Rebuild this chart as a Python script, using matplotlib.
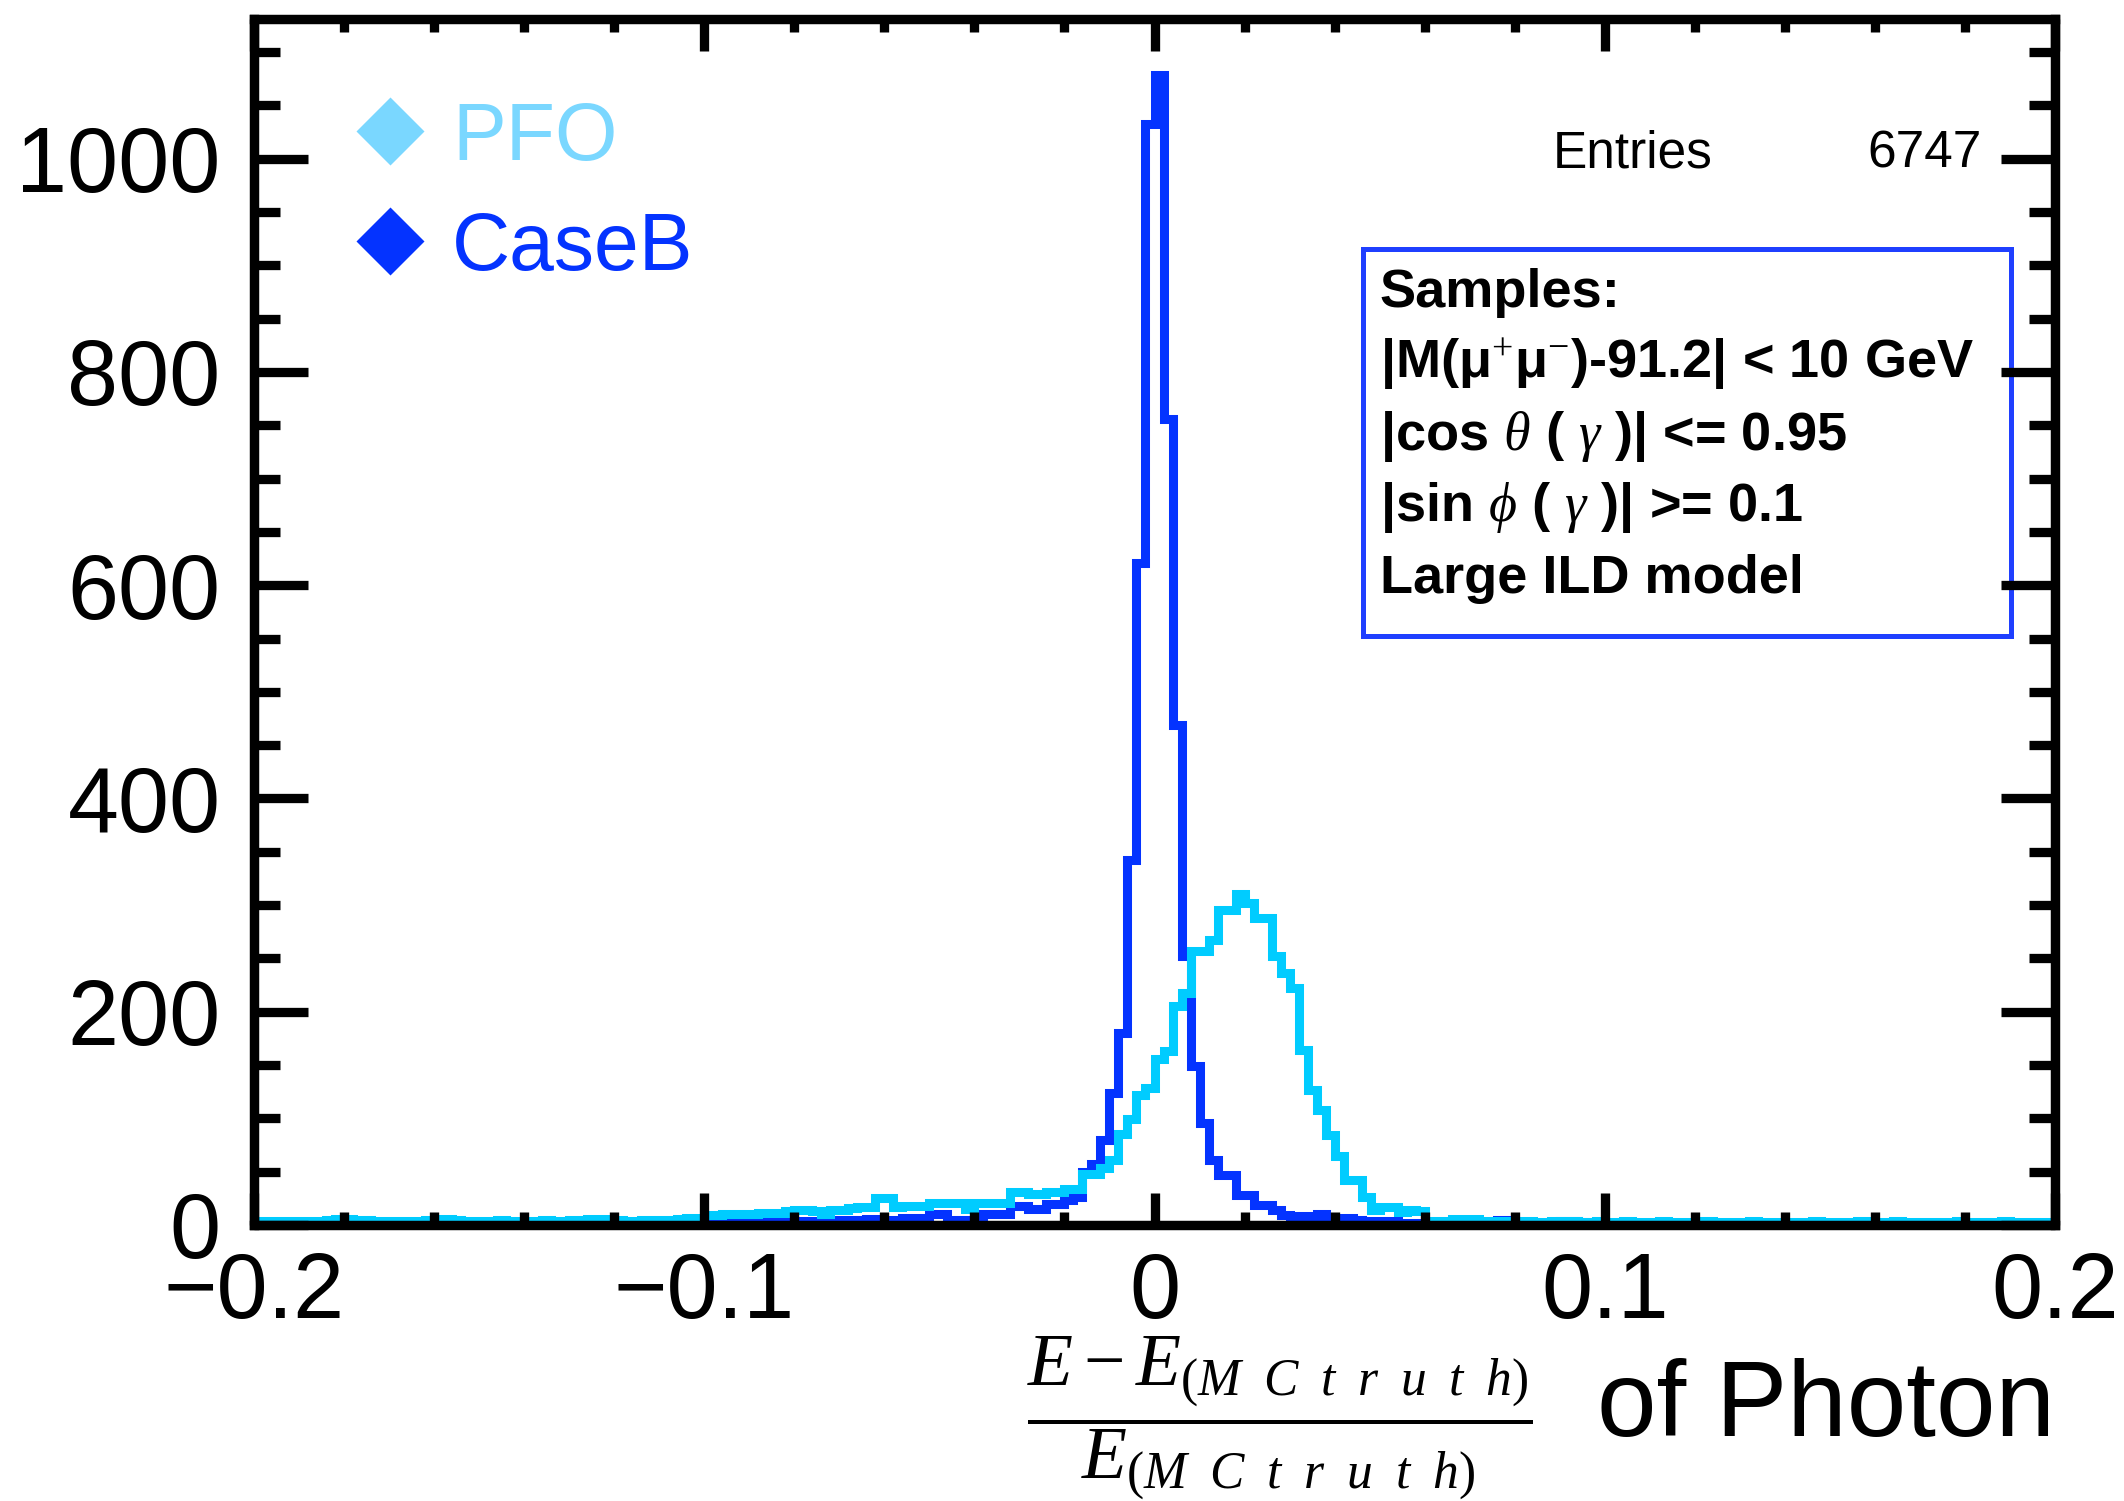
import numpy as np
import matplotlib
matplotlib.use('Agg')
import matplotlib.pyplot as plt
from matplotlib.patches import Rectangle
from matplotlib.ticker import MultipleLocator, FixedLocator

plt.rcParams['font.family'] = ['Liberation Sans', 'DejaVu Sans']
plt.rcParams['mathtext.fontset'] = 'custom'
plt.rcParams['mathtext.rm'] = 'Liberation Serif'
plt.rcParams['mathtext.it'] = 'Liberation Serif:italic'
plt.rcParams['mathtext.bf'] = 'Liberation Serif:bold'

# 200 bins of width 0.002 from -0.2 to 0.2
bin_lo, bin_hi, n_bins = -0.2, 0.2, 200

# CaseB counts per bin (rows of 10 bins, starting at -0.20)
caseb = [
    1, 0, 1, 1, 0, 1, 0, 1, 1, 2,
    0, 1, 1, 0, 1, 2, 1, 0, 1, 1,
    1, 2, 1, 1, 2, 1, 1, 2, 2, 1,
    1, 2, 1, 2, 1, 1, 2, 2, 1, 2,
    3, 2, 1, 2, 2, 3, 2, 3, 2, 3,
    3, 2, 3, 4, 3, 4, 5, 7, 6, 4,
    3, 4, 3, 3, 4, 5, 4, 5, 6, 6,
    5, 5, 7, 7, 7, 10, 10, 5, 5, 5,
    5, 10, 10, 10, 18, 18, 15, 15, 20, 20,
    23, 26, 50, 57, 80, 124, 180, 342, 621, 1033,
    1079, 756, 469, 252, 149, 96, 61, 47, 47, 28,
    28, 19, 19, 14, 9, 8, 8, 8, 10, 7,
    7, 7, 5, 4, 4, 4, 4, 2, 2, 2,
    2, 2, 1, 2, 1, 1, 2, 1, 5, 5,
    2, 1, 1, 2, 1, 4, 4, 3, 1, 1,
    1, 0, 1, 1, 0, 1, 1, 0, 1, 1,
    0, 1, 0, 1, 1, 0, 1, 0, 0, 1,
    1, 0, 1, 0, 0, 1, 0, 1, 0, 0,
    1, 0, 0, 1, 0, 1, 0, 0, 1, 0,
    0, 1, 0, 0, 1, 0, 0, 0, 1, 0,
]

# PFO counts per bin
pfo = [
    4, 4, 3, 4, 4, 3, 4, 4, 5, 6,
    6, 5, 5, 4, 4, 4, 3, 4, 4, 5,
    6, 6, 5, 4, 4, 4, 4, 5, 4, 4,
    4, 4, 5, 4, 4, 5, 5, 6, 6, 5,
    5, 4, 4, 5, 4, 5, 5, 6, 7, 7,
    9, 9, 10, 10, 10, 10, 11, 11, 11, 13,
    14, 14, 13, 10, 14, 14, 16, 17, 17, 25,
    25, 17, 18, 18, 18, 21, 21, 21, 21, 15,
    21, 21, 21, 21, 31, 31, 29, 29, 31, 31,
    34, 34, 48, 48, 53, 61, 85, 99, 122, 128,
    156, 163, 205, 218, 257, 257, 267, 295, 295, 310,
    302, 288, 288, 252, 236, 222, 164, 127, 108, 84,
    65, 42, 42, 26, 14, 17, 17, 12, 14, 13,
    4, 4, 4, 6, 6, 6, 4, 4, 3, 4,
    3, 4, 3, 3, 4, 3, 4, 3, 3, 4,
    3, 3, 4, 3, 3, 3, 4, 3, 3, 3,
    3, 4, 3, 3, 3, 3, 4, 3, 3, 3,
    3, 3, 3, 4, 3, 3, 3, 3, 4, 3,
    3, 3, 4, 3, 3, 3, 3, 3, 3, 4,
    3, 3, 3, 3, 4, 3, 3, 3, 3, 3,
]

xticks = [-0.2, -0.1, 0.0, 0.1, 0.2]
xticklabels = ['\u22120.2', '\u22120.1', '0', '0.1', '0.2']
entries = 6747
cuts = ['Samples:',
        '|M(\u03bc$^{+}$\u03bc$^{-}$)-91.2| < 10 GeV',
        r'|cos $\theta$ ( $\gamma$ )| <= 0.95',
        r'|sin $\phi$ ( $\gamma$ )| >= 0.1',
        'Large ILD model']

c_caseb = '#0433ff'
c_pfo = '#00ccff'
c_pfo_leg = '#7ad7ff'

edges = np.linspace(bin_lo, bin_hi, n_bins + 1)

fig = plt.figure(figsize=(21.24, 15.01), dpi=100)
ax = fig.add_axes([0.1196, 0.1839, 0.8479, 0.8034])

ax.stairs(caseb, edges, color=c_caseb, lw=6.5, joinstyle='miter')
ax.stairs(pfo, edges, color=c_pfo, lw=6.5, joinstyle='miter')

ax.set_xlim(bin_lo, bin_hi)
ax.set_ylim(0, 1131)
for s in ax.spines.values():
    s.set_linewidth(6.8)

ax.xaxis.set_major_locator(FixedLocator(xticks))
ax.set_xticklabels(xticklabels)
ax.xaxis.set_minor_locator(MultipleLocator(0.02))
ax.yaxis.set_major_locator(MultipleLocator(200))
ax.yaxis.set_minor_locator(MultipleLocator(50))
ax.tick_params(which='both', direction='in', top=True, right=True, width=6.7, labelsize=66)
ax.tick_params(axis='x', which='major', length=23, pad=19)
ax.tick_params(axis='x', which='minor', length=9.4)
ax.tick_params(axis='y', which='major', length=39, pad=24)
ax.tick_params(axis='y', which='minor', length=19)

# legend
ax.plot([0.1836], [0.9127], marker='D', ms=35, color=c_pfo_leg, mec='none',
        transform=fig.transFigure, clip_on=False)
ax.plot([0.1836], [0.8394], marker='D', ms=35, color=c_caseb, mec='none',
        transform=fig.transFigure, clip_on=False)
fig.text(0.2128, 0.8934, 'PFO', color=c_pfo_leg, fontsize=58, va='baseline')
fig.text(0.2128, 0.8201, 'CaseB', color=c_caseb, fontsize=58, va='baseline')

# stats
fig.text(0.7312, 0.8881, 'Entries', fontsize=37, va='baseline')
fig.text(0.9331, 0.8881, str(entries), fontsize=37, va='baseline', ha='right')

# cut box
ax.add_patch(Rectangle((0.6417, 0.5763), 0.3051, 0.2578, transform=fig.transFigure,
                       facecolor='white', edgecolor='#1f3fff', lw=3.6, zorder=1,
                       clip_on=False))
ys = [0.7955, 0.7482, 0.7002, 0.6529, 0.6049]
for t, y in zip(cuts, ys):
    fig.text(0.6497, y, t, fontsize=39, fontweight='bold', va='baseline')

# x title (letters of the subscript are spread out as in the original)
sub = r'(M\ \;C\ \;t\ \;r\ \;u\ \;t\ \;h)'
fig.text(0.6026, 0.0555, r'$\dfrac{E-E_{' + sub + '}}{E_{' + sub + '}}$', fontsize=53,
         ha='center', va='center')
fig.text(0.9675, 0.0433, 'of Photon', fontsize=77, ha='right', va='baseline')

fig.savefig('out.png', dpi=100)
